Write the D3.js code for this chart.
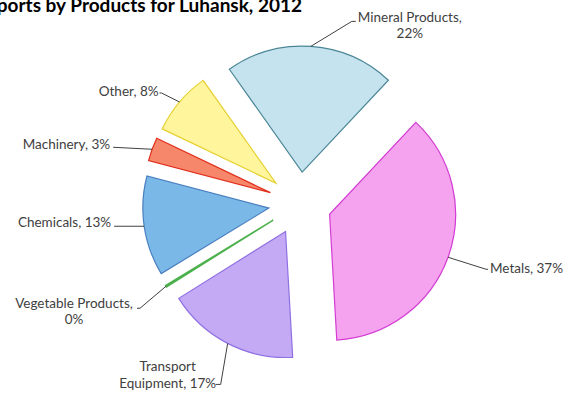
<!DOCTYPE html>
<html>
<head>
<meta charset="utf-8">
<script src="https://cdn.jsdelivr.net/npm/d3@7"></script>
<style>
  html, body { margin: 0; padding: 0; background: #fff; }
  svg { display: block; }
  .label { font-family: Lato, "Liberation Sans", sans-serif; font-size: 13.5px; fill: #404040; }
  .title { font-family: Lato, "Liberation Sans", sans-serif; font-size: 19px; font-weight: bold; fill: #000; }
  .leader { fill: none; stroke: #404040; stroke-width: 1; }
</style>
</head>
<body>
<svg id="chart" width="566" height="395"></svg>
<script>
const categories = ['Mineral Products', 'Metals', 'Transport Equipment', 'Vegetable Products', 'Chemicals', 'Machinery', 'Other'];
const shares = [21.8, 37.1, 17.0, 0.2, 12.8, 3.0, 8.1];
const fills = ['#c5e3ee', '#f5a3ef', '#c4a9f5', '#7fd07f', '#7ab8e8', '#f7876a', '#fff59d'];
const strokes = ['#4a8696', '#d23cd2', '#8f70e3', '#4cb04c', '#4a7fbf', '#e0301c', '#e6d030'];
const labelLines = [['Mineral Products,', '22%'], ['Metals, 37%'], ['Transport', 'Equipment, 17%'],
  ['Vegetable Products,', '0%'], ['Chemicals, 13%'], ['Machinery, 3%'], ['Other, 8%']];

const svg = d3.select('#chart');
const cx = 300, cy = 203.5, R = 126, explode = 31.5;
const start = -35.3 * Math.PI / 180;
const lineGap = 16.5;

const pie = d3.pie().sort(null).value(d => d).startAngle(start).endAngle(start + 2 * Math.PI);
const arcs = pie(shares);
const arc = d3.arc().innerRadius(0).outerRadius(R);

const g = svg.append('g').attr('transform', `translate(${cx},${cy})`);

const mid = d => (d.startAngle + d.endAngle) / 2;
const pt = (a, r) => [Math.sin(a) * r, -Math.cos(a) * r];

g.selectAll('path.slice').data(arcs).enter().append('path')
  .attr('class', 'slice')
  .attr('transform', d => { const [x, y] = pt(mid(d), explode); return `translate(${x},${y})`; })
  .attr('d', arc)
  .attr('fill', (d, i) => fills[i])
  .attr('stroke', (d, i) => strokes[i])
  .attr('stroke-width', (d, i) => i === 3 ? 1.4 : 1.2)
  .attr('stroke-linejoin', 'miter');

// leader lines: elbow and end offsets from the slice's outer midpoint, then the label's anchor
const leaders = [
  { elbow: [41, -25], end: [45, -25], tx: 99, ty: -21, anchor: 'middle' },
  { elbow: [38, 12], end: [40, 12], tx: 42, ty: 11, anchor: 'start' },
  { elbow: [-7, 41], end: [-12, 41], tx: -60, ty: 31.5, anchor: 'middle' },
  { elbow: [-26, 22], end: [-29, 22], tx: -92, ty: 25, anchor: 'middle' },
  { elbow: [-30, 0], end: [-30, 0], tx: -33, ty: -4, anchor: 'end' },
  { elbow: [-39, -2], end: [-39, -2], tx: -42, ty: -5, anchor: 'end' },
  { elbow: [-18, -9], end: [-20, -9], tx: -21, ty: -11, anchor: 'end' }
];

arcs.forEach((d, i) => {
  const a = mid(d);
  const [ox, oy] = pt(a, explode);
  const [px, py] = pt(a, R);
  const x0 = ox + px, y0 = oy + py;
  const L = leaders[i];
  g.append('path').attr('class', 'leader')
    .attr('d', d3.line()([[x0, y0], [x0 + L.elbow[0], y0 + L.elbow[1]], [x0 + L.end[0], y0 + L.end[1]]]));
  const lines = labelLines[i];
  const t = g.append('text').attr('class', 'label')
    .attr('text-anchor', L.anchor)
    .attr('x', x0 + L.tx)
    .attr('y', y0 + L.ty - (lines.length - 1) * lineGap / 2);
  lines.forEach((s, k) => {
    t.append('tspan').attr('x', x0 + L.tx).attr('dy', k === 0 ? '0.35em' : lineGap).text(s);
  });
});

svg.append('text').attr('class', 'title')
  .attr('x', 302).attr('y', 12).attr('text-anchor', 'end')
  .text('Exports by Products for Luhansk, 2012');
</script>
</body>
</html>
